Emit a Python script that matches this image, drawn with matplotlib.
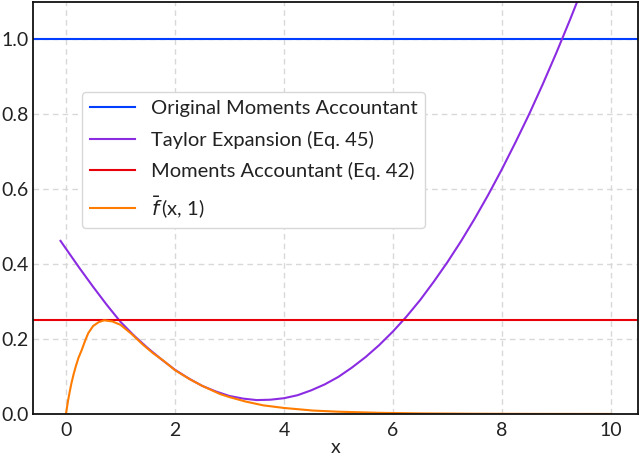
import matplotlib
matplotlib.use("Agg")
import matplotlib.pyplot as plt

plt.rcParams["font.family"] = ["Lato", "DejaVu Sans"]
plt.rcParams["mathtext.fontset"] = "dejavusans"

# values
taylor_x = [-0.1, 0.0, 0.25, 0.5, 0.75, 1.0, 1.25, 1.5, 1.75, 2.0, 2.25,
            2.5, 2.75, 3.0, 3.25, 3.5, 3.75, 4.0, 4.25, 4.5, 4.75, 5.0,
            5.25, 5.5, 5.75, 6.0, 6.25, 6.5, 6.75, 7.0, 7.25, 7.5, 7.75,
            8.0, 8.25, 8.5, 8.75, 9.0, 9.25, 9.4]
taylor_y = [0.462, 0.441, 0.389, 0.339, 0.291, 0.246, 0.209, 0.176, 0.146,
            0.118, 0.095, 0.075, 0.060, 0.048, 0.041, 0.037, 0.038, 0.042,
            0.050, 0.063, 0.079, 0.099, 0.124, 0.152, 0.184, 0.220, 0.260,
            0.304, 0.353, 0.405, 0.461, 0.521, 0.585, 0.653, 0.725, 0.800,
            0.880, 0.964, 1.052, 1.107]

fbar_x = [0.0, 0.02, 0.04, 0.07, 0.1, 0.14, 0.18, 0.23, 0.29, 0.35, 0.41,
          0.5, 0.6, 0.7, 0.85, 1.0, 1.2, 1.42, 1.6, 1.79, 2.0, 2.28, 2.5,
          2.83, 3.0, 3.3, 3.62, 4.0, 4.54, 5.0, 5.76, 6.5, 7.5, 8.5, 10.0]
fbar_y = [0.0, 0.019, 0.037, 0.060, 0.082, 0.106, 0.127, 0.150, 0.171,
          0.195, 0.216, 0.235, 0.245, 0.250, 0.247, 0.238, 0.214, 0.184,
          0.162, 0.142, 0.117, 0.092, 0.075, 0.053, 0.045, 0.033, 0.023,
          0.016, 0.009, 0.006, 0.003, 0.0015, 0.0006, 0.0002, 0.0]

original_ma = 1.0
ma_eq42 = 0.25

fig, ax = plt.subplots(figsize=(6.4, 4.62), dpi=100)
fig.subplots_adjust(left=0.052, right=0.997, top=0.996, bottom=0.104)

ax.axhline(original_ma, color="#023eff", lw=1.5, label="Original Moments Accountant")
ax.plot(taylor_x, taylor_y, color="#8b2be2", lw=1.5, label="Taylor Expansion (Eq. 45)")
ax.axhline(ma_eq42, color="#e8000b", lw=1.5, label="Moments Accountant (Eq. 42)")
ax.plot(fbar_x, fbar_y, color="#ff7c00", lw=1.5, label=r"$\bar{f}\,$(x, 1)")

ax.set_xlim(-0.6, 10.5)
ax.set_ylim(0, 1.1)
ax.set_xticks([0, 2, 4, 6, 8, 10])
ax.set_yticks([0.0, 0.2, 0.4, 0.6, 0.8, 1.0])
ax.tick_params(length=0, labelsize=14, colors="#222222", pad=3)
ax.tick_params(axis="x", pad=6)
ax.grid(True, linestyle=(0, (4, 3)), color="#d8d8d8", lw=1)
ax.set_axisbelow(True)
for s in ax.spines.values():
    s.set_color("#111111")
    s.set_linewidth(1.3)

ax.set_xlabel("x", fontsize=14, color="#222222", labelpad=0)

leg = ax.legend(loc="upper left", bbox_to_anchor=(0.081, 0.782), borderaxespad=0,
                fontsize=14.5, handlelength=2.2, handletextpad=0.8,
                labelspacing=0.68, fancybox=True, framealpha=1,
                edgecolor="#d8d8d8")
for t in leg.get_texts():
    t.set_color("#222222")

fig.savefig("out.png", dpi=100)
